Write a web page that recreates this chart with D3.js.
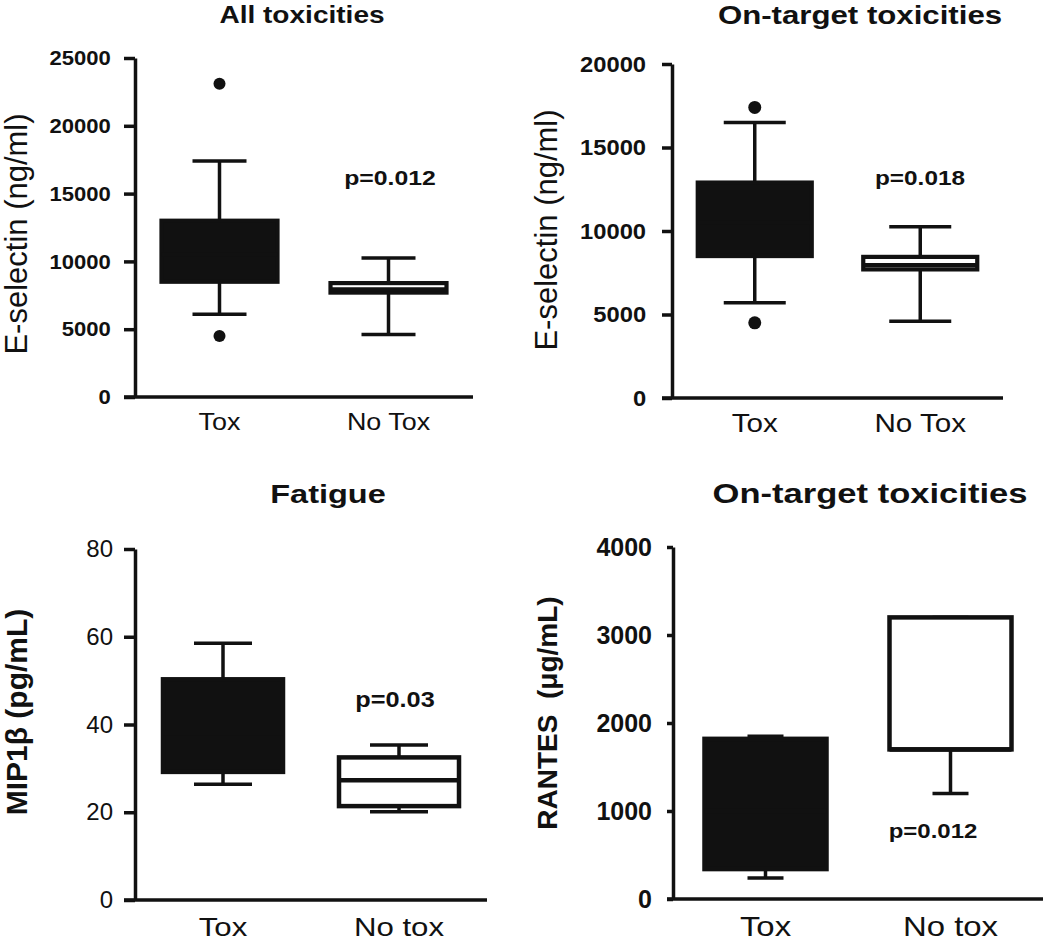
<!DOCTYPE html>
<html>
<head>
<meta charset="utf-8">
<script src="https://cdn.jsdelivr.net/npm/d3@7"></script>
<style>
  html, body { margin: 0; padding: 0; background: #fff; }
  svg { display: block; }
</style>
</head>
<body>
<svg id="chart" width="1050" height="940"></svg>
<script>
// ---------------- DATA ----------------
const titles = ["All toxicities", "On-target toxicities", "Fatigue", "On-target toxicities"];
const yLabels = ["E-selectin (ng/ml)", "E-selectin (ng/ml)", "MIP1\u03b2 (pg/mL)", "RANTES\u00a0\u00a0(\u03bcg/mL)"];
const categoriesTop = ["Tox", "No Tox"];
const categoriesBottom = ["Tox", "No tox"];
const pValues = ["p=0.012", "p=0.018", "p=0.03", "p=0.012"];

const yTicksAll = [0, 5000, 10000, 15000, 20000, 25000];
const yTicksOnTargetE = [0, 5000, 10000, 15000, 20000];
const yTicksFatigue = [0, 20, 40, 60, 80];
const yTicksRantes = [0, 1000, 2000, 3000, 4000];

// box stats per group: [whiskerLow, q1, median, q3, whiskerHigh]
const allToxBoxes = [[6100, 8500, 10500, 13000, 17400], [4600, 7700, 7930, 8400, 10250]];
const allToxOutliers = [[23100, 4500], []];
const onTargetEBoxes = [[5700, 8500, 10500, 12900, 16500], [4600, 7700, 7960, 8450, 10250]];
const onTargetEOutliers = [[17400, 4500], []];
const fatigueBoxes = [[26.4, 29.2, 38, 50.3, 58.5], [20.1, 21.4, 27.3, 32.5, 35.3]];
const fatigueOutliers = [[], []];
const rantesBoxes = [[240, 340, 1000, 1820, 1850], [1200, 1700, 1700, 3200, 3200]];
const rantesOutliers = [[], []];
const boxFills = ["#111", "#fff"];

// ---------------- LAYOUT ----------------
const FONT = "'Liberation Sans', Arial, Helvetica, sans-serif";
const INK = "#111";
const panels = [
  { title: titles[0], ylabel: yLabels[0], cats: categoriesTop, ticks: yTicksAll, boxes: allToxBoxes, outliers: allToxOutliers, p: pValues[0],
    x0: 135, x1: 473, yTop: 58, yBot: 397, tickLen: 11, tickPad: 12, tickFont: 21, tickWeight: "bold", tickSx: 1.05,
    titlePos: [302, 23], titleSize: 23, titleSx: 1.22,
    ylabPos: [27, 234], ylabSize: 31, ylabWeight: "normal",
    xlabBase: 430, xlabSize: 23, xlabSx: 1.17,
    boxW: 116, capW: 54, boxStroke: 4.2, r: 6,
    pPos: [390, 185], pSize: 21, pSx: 1.18 },
  { title: titles[1], ylabel: yLabels[1], cats: categoriesTop, ticks: yTicksOnTargetE, boxes: onTargetEBoxes, outliers: onTargetEOutliers, p: pValues[1],
    x0: 672, x1: 1003, yTop: 64, yBot: 398, tickLen: 10, tickPad: 14, tickFont: 22, tickWeight: "bold", tickSx: 1.08,
    titlePos: [860, 24], titleSize: 26, titleSx: 1.2,
    ylabPos: [557, 230], ylabSize: 31, ylabWeight: "normal",
    xlabBase: 432, xlabSize: 26, xlabSx: 1.14,
    boxW: 114, capW: 62, boxStroke: 4.2, r: 6.5,
    pPos: [920, 185], pSize: 21, pSx: 1.16 },
  { title: titles[2], ylabel: yLabels[2], cats: categoriesBottom, ticks: yTicksFatigue, boxes: fatigueBoxes, outliers: fatigueOutliers, p: pValues[2],
    x0: 135, x1: 487, yTop: 549, yBot: 900, tickLen: 11, tickPad: 11, tickFont: 24, tickWeight: "normal", tickSx: 1.0,
    titlePos: [328, 503], titleSize: 25, titleSx: 1.3,
    ylabPos: [27, 712], ylabSize: 30, ylabWeight: "bold",
    xlabBase: 936, xlabSize: 26, xlabSx: 1.2,
    boxW: 120, capW: 58, boxStroke: 4.5, r: 6,
    pPos: [395, 707], pSize: 22, pSx: 1.15 },
  { title: titles[3], ylabel: yLabels[3], cats: categoriesBottom, ticks: yTicksRantes, boxes: rantesBoxes, outliers: rantesOutliers, p: pValues[3],
    x0: 673, x1: 1043, yTop: 547, yBot: 899, tickLen: 6, tickPad: 15, tickFont: 25, tickWeight: "bold", tickSx: 1.0,
    titlePos: [870, 503], titleSize: 27, titleSx: 1.28,
    ylabPos: [557, 713], ylabSize: 28, ylabWeight: "bold",
    xlabBase: 936, xlabSize: 27, xlabSx: 1.22,
    boxW: 122, capW: 36, boxStroke: 4.5, r: 6,
    pPos: [933, 838], pSize: 20, pSx: 1.2 }
];

const svg = d3.select("#chart");

function addText(g, s, x, y, o) {
  return g.append("text")
    .attr("transform", `translate(${x},${y}) rotate(${o.rotate || 0}) scale(${o.sx || 1},1)`)
    .attr("text-anchor", o.anchor || "middle")
    .attr("font-family", FONT)
    .attr("font-size", o.size)
    .attr("font-weight", o.weight || "normal")
    .attr("fill", INK)
    .text(s);
}

panels.forEach(cfg => {
  const g = svg.append("g");
  const yMax = cfg.ticks[cfg.ticks.length - 1];
  const y = d3.scaleLinear().domain([0, yMax]).range([cfg.yBot, cfg.yTop]);
  const x = d3.scalePoint().domain(cfg.cats).range([cfg.x0, cfg.x1]).padding(0.5);

  // boxes
  cfg.cats.forEach((c, i) => {
    const [lo, q1, med, q3, hi] = cfg.boxes[i];
    const cx = x(c);
    const bg = g.append("g").attr("stroke", INK).attr("stroke-width", 3.5);
    // whiskers
    bg.append("line").attr("x1", cx).attr("x2", cx).attr("y1", y(q3)).attr("y2", y(hi));
    bg.append("line").attr("x1", cx).attr("x2", cx).attr("y1", y(q1)).attr("y2", y(lo));
    bg.append("line").attr("x1", cx - cfg.capW / 2).attr("x2", cx + cfg.capW / 2).attr("y1", y(hi)).attr("y2", y(hi));
    bg.append("line").attr("x1", cx - cfg.capW / 2).attr("x2", cx + cfg.capW / 2).attr("y1", y(lo)).attr("y2", y(lo));
    // box
    bg.append("rect")
      .attr("x", cx - cfg.boxW / 2).attr("width", cfg.boxW)
      .attr("y", y(q3)).attr("height", y(q1) - y(q3))
      .attr("fill", boxFills[i]).attr("stroke-width", cfg.boxStroke);
    // median
    bg.append("line").attr("x1", cx - cfg.boxW / 2).attr("x2", cx + cfg.boxW / 2)
      .attr("y1", y(med)).attr("y2", y(med)).attr("stroke-width", cfg.boxStroke);
    // outliers
    cfg.outliers[i].forEach(v => {
      g.append("circle").attr("cx", cx).attr("cy", y(v)).attr("r", cfg.r).attr("fill", INK);
    });
  });

  // y axis
  const ax = g.append("g").attr("transform", `translate(${cfg.x0},0)`)
    .call(d3.axisLeft(y).tickValues(cfg.ticks).tickFormat(d3.format("d"))
      .tickSize(cfg.tickLen).tickPadding(cfg.tickPad).tickSizeOuter(0));
  ax.selectAll("path, line").attr("stroke", INK).attr("stroke-width", 3.5);
  ax.selectAll("text")
    .attr("font-family", FONT).attr("font-size", cfg.tickFont).attr("font-weight", cfg.tickWeight)
    .attr("fill", INK).attr("transform", `scale(${cfg.tickSx},1)`);

  // x axis line
  g.append("line")
    .attr("x1", cfg.x0 - cfg.tickLen).attr("x2", cfg.x1)
    .attr("y1", y(0)).attr("y2", y(0))
    .attr("stroke", INK).attr("stroke-width", 3.5);

  // x labels
  cfg.cats.forEach(c => {
    addText(g, c, x(c), cfg.xlabBase, { size: cfg.xlabSize, sx: cfg.xlabSx });
  });

  // title
  addText(g, cfg.title, cfg.titlePos[0], cfg.titlePos[1], { size: cfg.titleSize, weight: "bold", sx: cfg.titleSx });
  // y label
  addText(g, cfg.ylabel, cfg.ylabPos[0], cfg.ylabPos[1], { size: cfg.ylabSize, weight: cfg.ylabWeight, rotate: -90 });
  // p value
  addText(g, cfg.p, cfg.pPos[0], cfg.pPos[1], { size: cfg.pSize, weight: "bold", sx: cfg.pSx });
});
</script>
</body>
</html>
